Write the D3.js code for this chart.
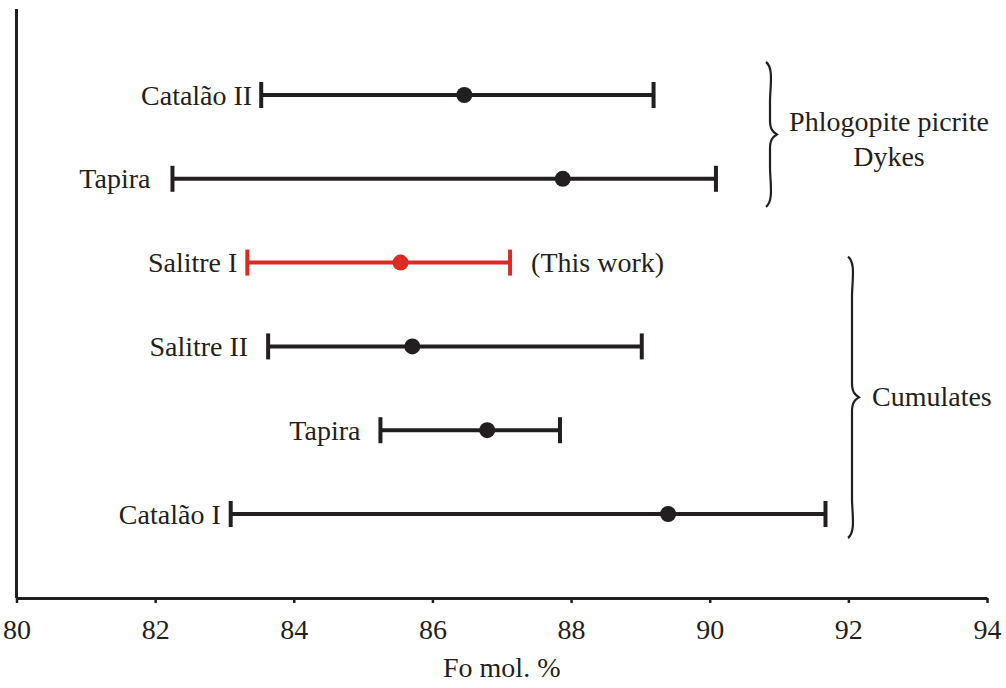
<!DOCTYPE html>
<html>
<head>
<meta charset="utf-8">
<script src="https://cdn.jsdelivr.net/npm/d3@7"></script>
<style>
  html, body { margin: 0; padding: 0; background: #fff; }
  svg { display: block; }
  text { font-family: "Liberation Serif", "Times New Roman", serif; fill: #231f20; }
</style>
</head>
<body>
<svg id="chart" width="1006" height="688"></svg>
<script>
// Forsterite content (Fo mol. %) ranges and means per locality
const localities = ["Catalão II", "Tapira", "Salitre I", "Salitre II", "Tapira", "Catalão I"];
const foMin  = [83.53, 82.25, 83.33, 83.63, 85.25, 83.09];
const foMax  = [89.19, 90.09, 87.12, 89.02, 87.84, 91.67];
const foMean = [86.46, 87.88, 85.54, 85.71, 86.79, 89.40];
const isThisWork = [false, false, true, false, false, false];
const xTicks = [80, 82, 84, 86, 88, 90, 92, 94];
const groups = [
  { name: ["Phlogopite picrite", "Dykes"], first: 0, last: 1 },
  { name: ["Cumulates"], first: 2, last: 5 }
];

// layout
const FONT = "'Liberation Serif', 'Times New Roman', serif";
const FS = 28;
const labelGap = [9, 22, 10, 20, 20, 10];
const BLACK = "#231f20", RED = "#db2b22";

const svg = d3.select("#chart");
const x = d3.scaleLinear().domain([80, 94]).range([16.5, 987]);
const y = d3.scalePoint().domain(d3.range(localities.length)).range([95, 514]);

// axes
svg.append("line")
  .attr("x1", x(80)).attr("x2", x(80)).attr("y1", 9).attr("y2", 598)
  .attr("stroke", BLACK).attr("stroke-width", 3);

const xAxis = svg.append("g")
  .attr("transform", "translate(0,598)")
  .call(d3.axisBottom(x).tickValues(xTicks).tickFormat(d3.format("d")).tickSize(5).tickSizeOuter(0).tickPadding(16))
  .attr("font-family", FONT).attr("font-size", FS);
xAxis.select(".domain").attr("stroke", BLACK).attr("stroke-width", 3);
xAxis.selectAll(".tick line").attr("stroke", BLACK).attr("stroke-width", 2.5);
xAxis.selectAll(".tick text").attr("fill", BLACK);

svg.append("text")
  .attr("x", (x(80) + x(94)) / 2).attr("y", 677)
  .attr("text-anchor", "middle").attr("font-size", FS)
  .text("Fo mol. %");

// error bars
const rows = svg.append("g").selectAll("g")
  .data(localities.map((name, i) => ({ i, name })))
  .join("g")
  .attr("stroke", d => isThisWork[d.i] ? RED : BLACK)
  .attr("fill", d => isThisWork[d.i] ? RED : BLACK);

rows.append("line")
  .attr("x1", d => x(foMin[d.i])).attr("x2", d => x(foMax[d.i]))
  .attr("y1", d => y(d.i)).attr("y2", d => y(d.i))
  .attr("stroke-width", 4);

rows.selectAll("line.cap")
  .data(d => [foMin[d.i], foMax[d.i]].map(v => ({ v, i: d.i })))
  .join("line").attr("class", "cap")
  .attr("x1", c => x(c.v)).attr("x2", c => x(c.v))
  .attr("y1", c => y(c.i) - 13).attr("y2", c => y(c.i) + 13)
  .attr("stroke-width", 4);

rows.append("circle")
  .attr("cx", d => x(foMean[d.i])).attr("cy", d => y(d.i))
  .attr("r", 8).attr("stroke", "none");

rows.append("text")
  .attr("x", d => x(foMin[d.i]) - labelGap[d.i]).attr("y", d => y(d.i))
  .attr("dy", "0.34em").attr("text-anchor", "end")
  .attr("font-size", FS).attr("stroke", "none").attr("fill", BLACK)
  .text(d => d.name);

svg.append("text")
  .attr("x", x(foMax[2]) + 21).attr("y", y(2))
  .attr("dy", "0.34em").attr("font-size", FS)
  .text("(This work)");

// curly braces grouping localities
function bracePath(xb, y0, y1, w) {
  const ym = (y0 + y1) / 2;
  return `M${xb - 2},${y0} C${xb + 6},${y0 + 6} ${xb + 2},${y0 + 25} ${xb + 2},${y0 + 40}`
    + ` L${xb + 2},${ym - 14} C${xb + 2},${ym - 4} ${xb + w - 3},${ym - 2} ${xb + w},${ym}`
    + ` C${xb + w - 3},${ym + 2} ${xb + 2},${ym + 4} ${xb + 2},${ym + 14}`
    + ` L${xb + 2},${y1 - 40} C${xb + 2},${y1 - 25} ${xb + 6},${y1 - 6} ${xb - 2},${y1}`;
}
const braceX = [768, 850];
const braceExt = [[-33, 28], [-6, 24]];
const labelShift = [5, -1];
groups.forEach((g, k) => {
  const y0 = y(g.first) + braceExt[k][0];
  const y1 = y(g.last) + braceExt[k][1];
  svg.append("path")
    .attr("d", bracePath(braceX[k], y0, y1, 9))
    .attr("fill", "none").attr("stroke", BLACK).attr("stroke-width", 2.2);
  const ym = (y0 + y1) / 2 + labelShift[k];
  const t = svg.append("text")
    .attr("font-size", FS)
    .attr("text-anchor", g.name.length > 1 ? "middle" : "start");
  g.name.forEach((line, j) => {
    t.append("tspan")
      .attr("x", g.name.length > 1 ? 889 : braceX[k] + 22)
      .attr("y", ym + (j - (g.name.length - 1) / 2) * 35)
      .attr("dy", "0.34em")
      .text(line);
  });
});
</script>
</body>
</html>
